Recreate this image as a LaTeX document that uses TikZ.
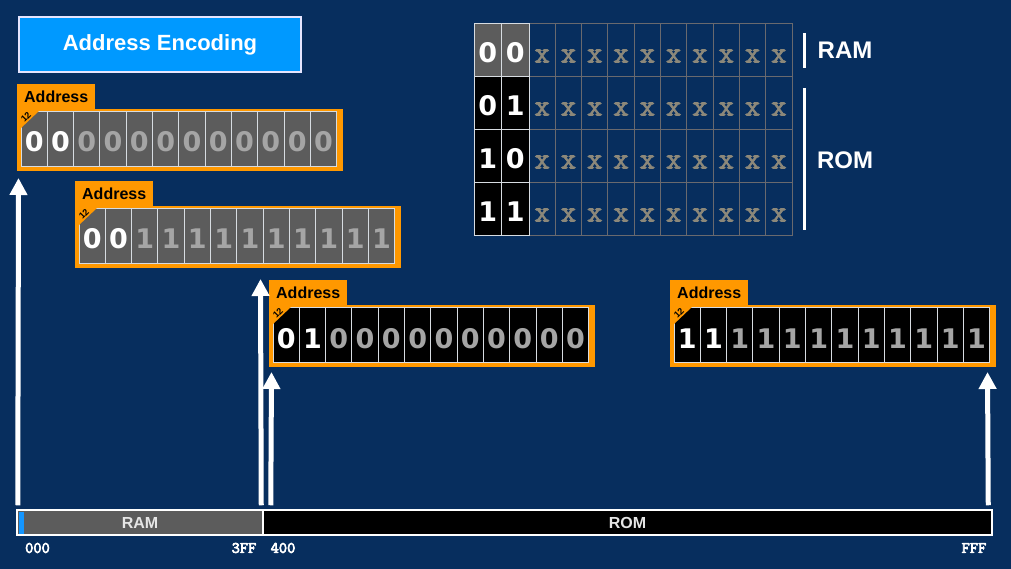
\documentclass[tikz,border=0pt]{standalone}
\usepackage{fontspec}
\setmainfont{Liberation Sans}
\newfontfamily\digitfont{DejaVu Sans}
\newfontfamily\codefont[FakeBold=2.5]{Latin Modern Mono}
\newfontfamily\hexfont[FakeBold=4]{Latin Modern Mono}
\usetikzlibrary{arrows.meta}

\definecolor{bgblue}{RGB}{7,46,94}
\definecolor{titleblue}{RGB}{0,153,255}
\definecolor{addrorange}{RGB}{255,152,0}
\definecolor{cellgray}{RGB}{92,92,92}
\definecolor{cellline}{RGB}{215,220,225}
\definecolor{lowgray}{RGB}{165,165,165}
\definecolor{gridgray}{RGB}{105,105,110}
\definecolor{xgray}{RGB}{140,136,122}
\definecolor{sliverblue}{RGB}{20,150,255}

% register: name, x, y (box top left), cell fill, bit 11, bit 10, low bits
\newcommand{\addrreg}[7]{%
  \node[regbox] (#1) at (#2,#3) {};
  \node[regtab] (#1tab) at ({#2},{#3+1}) {Address};
  \node[regcell, fill=#4, text=white] (#1c1) at ({#2+4+13.15},{#3+30}) {#5};
  \node[regcell, fill=#4, text=white] (#1c2) at ({#2+4+13.15+26.3},{#3+30}) {#6};
  \foreach \i in {3,...,12}
    \node[regcell, fill=#4, text=lowgray] (#1c\i) at ({#2+4+13.15+26.3*(\i-1)},{#3+30}) {#7};
  \fill[addrorange] ({#2+3},{#3+2}) -- ({#2+22},{#3+2}) -- ({#2+3},{#3+20}) -- cycle;
  \node[rotate=45, font=\bfseries\fontsize{9}{9}\selectfont, inner sep=0pt] (#1w) at ({#2+9},{#3+8}) {12};
}

\begin{document}
\begin{tikzpicture}[x=1pt, y=-1pt,
    regbox/.style={anchor=north west, fill=addrorange, minimum width=326pt, minimum height=62pt, inner sep=0pt},
    regtab/.style={anchor=south west, fill=addrorange, minimum width=78pt, minimum height=26pt, inner sep=0pt, font=\bfseries\fontsize{16}{16}\selectfont},
    regcell/.style={draw=cellline, line width=1pt, minimum width=26.3pt, minimum height=55pt, inner sep=0pt, text height=26pt, text depth=0pt, font=\digitfont\bfseries\fontsize{27}{27}\selectfont},
    bitcell/.style={draw=cellline, line width=1pt, minimum width=27.5pt, minimum height=53pt, inner sep=0pt, text=white, text height=24pt, text depth=0pt, font=\digitfont\bfseries\fontsize{27}{27}\selectfont},
    xcell/.style={draw=gridgray, line width=1pt, minimum width=26.3pt, minimum height=53pt, inner sep=0pt, text=xgray, text height=24pt, text depth=0pt, font=\codefont\fontsize{30}{30}\selectfont},
    barpart/.style={draw=white, line width=1.5pt, minimum height=25pt, inner sep=0pt, text=white!90!black, font=\bfseries\fontsize{16}{16}\selectfont},
    hexlabel/.style={text=white, inner sep=0pt, font=\hexfont\fontsize{16}{16}\selectfont},
    sidelabel/.style={text=white, inner sep=0pt, font=\bfseries\fontsize{24}{24}\selectfont},
    bracket/.style={draw=white, line width=3pt},
    uparrow/.style={draw=white, line width=5pt, -{Triangle[width=17pt,length=17pt]}}]

    % Background
    \fill[bgblue] (0,0) rectangle (1011,569);
    \useasboundingbox (0,0) rectangle (1011,569);

    % Title
    \node[fill=titleblue, draw=white!90!blue, line width=2pt, minimum width=282pt, minimum height=55pt, text=white, font=\bfseries\fontsize{22}{22}\selectfont] (title) at (160,45) {Address Encoding};

    % Registers
    \addrreg{r1}{17}{109}{cellgray}{0}{0}{0}
    \addrreg{r2}{75}{206}{cellgray}{0}{0}{1}
    \addrreg{r3}{269}{305}{black}{0}{1}{0}
    \addrreg{r4}{670}{305}{black}{1}{1}{1}

    % Table
    \foreach \p/\q/\f [count=\r] in {0/0/cellgray, 0/1/black, 1/0/black, 1/1/black} {
        \foreach \j in {1,...,10}
            \node[xcell] (t\r x\j) at ({529+26.3*(\j-0.5)},{24+53*(\r-0.5)}) {x};
        \node[bitcell, fill=\f] (t\r a) at (487.75,{24+53*(\r-0.5)}) {\p};
        \node[bitcell, fill=\f] (t\r b) at (515.25,{24+53*(\r-0.5)}) {\q};
    }

    % Brackets
    \draw[bracket] (804,33) -- (804,68);
    \draw[bracket] (804,88) -- (804,230);
    \node[sidelabel] (ramside) at (845,50) {RAM};
    \node[sidelabel] (romside) at (845,160) {ROM};

    % Memory bar
    \node[barpart, fill=cellgray, minimum width=246pt] (ram) at (140,522.5) {RAM};
    \node[barpart, fill=black, minimum width=729pt] (rom) at (627.5,522.5) {ROM};
    \fill[sliverblue] (18.5,511.5) rectangle (24,533.5);

    \node[hexlabel] (h000) at (37.5,548) {000};
    \node[hexlabel] (h3ff) at (244,548) {3FF};
    \node[hexlabel] (h400) at (283,548) {400};
    \node[hexlabel] (hfff) at (974,548) {FFF};

    % Arrows
    \coordinate (e1) at (18.5,178);
    \coordinate (e2) at (260.5,279);
    \coordinate (e3) at (271.5,372);
    \coordinate (e4) at (987.5,372);
    \draw[uparrow] ([xshift=1.5pt,yshift=4pt]ram.north west) -- (e1);
    \draw[uparrow] ([xshift=-2.5pt,yshift=4pt]ram.north east) -- (e2);
    \draw[uparrow] ([xshift=8.5pt,yshift=4pt]rom.north west) -- (e3);
    \draw[uparrow] ([xshift=-4.5pt,yshift=4pt]rom.north east) -- (e4);
\end{tikzpicture}
\end{document}
